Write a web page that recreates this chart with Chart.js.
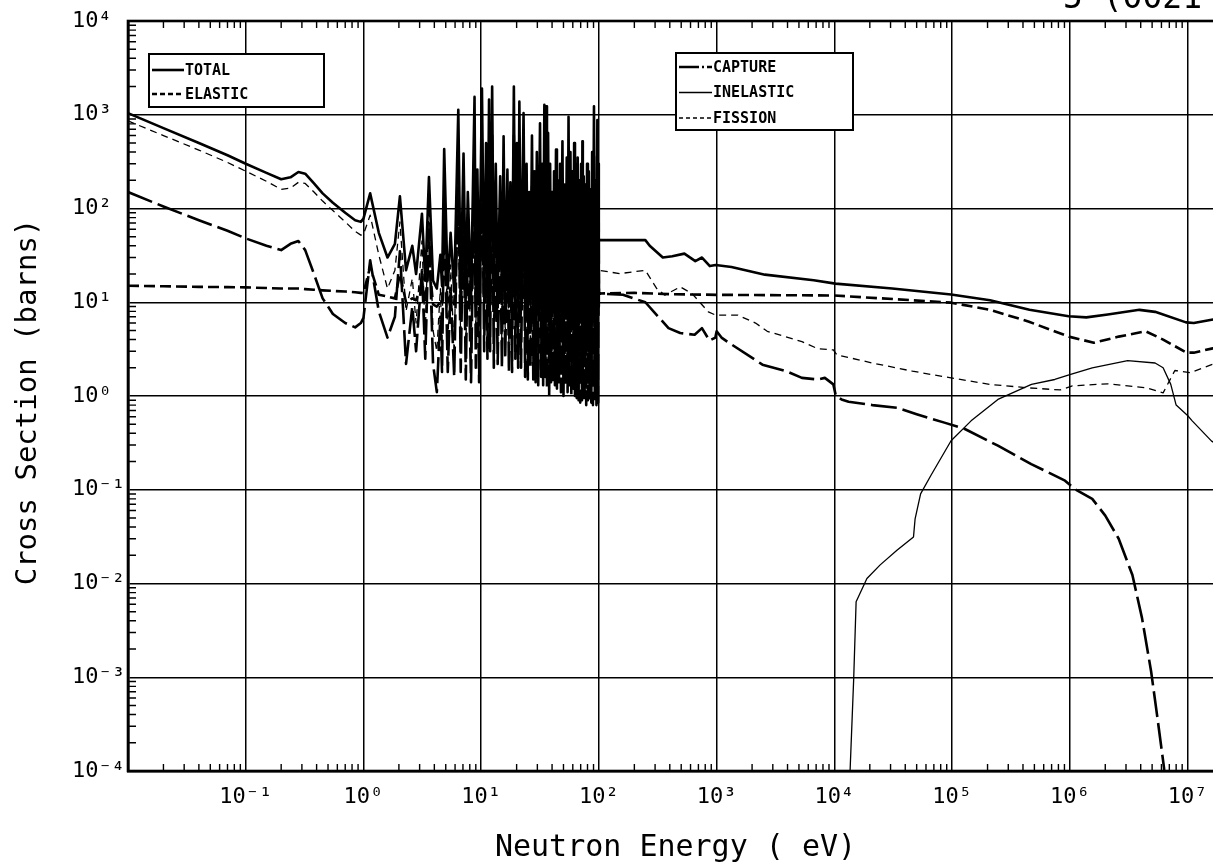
<!DOCTYPE html>
<html>
<head>
<meta charset="utf-8">
<title>Neutron cross sections</title>
<script src="https://cdn.jsdelivr.net/npm/chart.js@4.4.1/dist/chart.umd.min.js"></script>
<style>
  html, body { margin: 0; padding: 0; background: #fff; overflow: hidden; }
  canvas { display: block; }
</style>
</head>
<body>
<canvas id="xsChart" width="1230" height="868"></canvas>
<script>
// energies in eV, cross sections in barns

// thermal / sub-eV part
const lowE   = [0.01, 0.02, 0.04, 0.07, 0.1, 0.15, 0.2, 0.24, 0.28, 0.32, 0.38, 0.45, 0.55, 0.7, 0.85, 0.95];
const totLow = [1040, 720, 500, 370, 300, 240, 205, 215, 245, 235, 185, 145, 115, 90, 75, 72];
const elaLow = [15, 14.8, 14.6, 14.5, 14.4, 14.2, 14, 14, 14, 13.8, 13.6, 13.4, 13.2, 13, 12.8, 12.6];
const fisLow = [860, 600, 420, 310, 250, 195, 160, 165, 190, 185, 150, 120, 95, 72, 57, 52];
const capLow = [150, 105, 75, 58, 48, 40, 36, 42, 45, 36, 20, 11, 7.5, 6, 5.4, 6];

// resolved resonance region, 1 - 100 eV (valleys and peaks)
const resE = [
  1.0, 1.14, 1.35, 1.6, 1.85, 2.04, 2.3, 2.6, 2.8, 3.14,
  3.35, 3.6, 3.9, 4.2, 4.5, 4.65, 4.85, 5.2, 5.5, 5.9,
  6.39, 6.7, 7.08, 7.4, 7.7, 8.2, 8.78, 9.0, 9.28, 9.6,
  10.15, 10.6, 11.0, 11.3, 11.66, 11.9, 12.39, 12.8, 13.3, 13.8,
  14.5, 15.0, 15.5, 16.0, 16.7, 17.2, 17.7, 18.3, 18.95, 19.5,
  20.1, 20.6, 21.1, 21.8, 22.9, 23.6, 24.3, 24.9, 25.6, 26.2,
  27.0, 27.7, 28.4, 29.0, 29.7, 30.5, 31.6, 32.3, 33.0, 33.6,
  34.4, 35.0, 35.6, 36.2, 37.0, 37.8, 38.5, 39.2, 40.0, 40.8,
  41.6, 42.3, 43.2, 44.0, 45.0, 45.8, 46.8, 47.6, 49.0, 50.0,
  51.2, 52.2, 53.3, 54.2, 55.2, 56.2, 57.3, 58.3, 59.5, 60.5,
  61.6, 62.6, 63.8, 64.8, 66.0, 67.2, 68.3, 69.4, 70.6, 71.8,
  72.4, 73.0, 74.3, 75.5, 76.8, 78.0, 79.3, 80.6, 82.0, 83.3,
  84.8, 86.2, 87.6, 89.0, 90.8, 92.3, 93.8, 95.3, 97.0, 98.5,
  99.6
];
const totRes = [
  78, 145, 55, 30, 42, 135, 22, 40, 20, 88,
  17, 216, 17, 14, 32, 15, 430, 14, 55, 13,
  1130, 13, 385, 12, 150, 12, 1550, 13, 260, 12,
  1900, 12, 500, 12, 1450, 13, 2000, 11, 300, 11,
  220, 11, 590, 12, 260, 11, 190, 11, 2000, 12,
  500, 11, 1380, 11, 1040, 10.5, 300, 10.5, 150, 11,
  600, 10.5, 250, 10.5, 400, 10, 810, 10.5, 300, 10,
  1280, 10.5, 1230, 10, 640, 9.5, 300, 10, 150, 10,
  250, 10, 425, 9.5, 200, 10, 300, 9.5, 520, 9.5,
  180, 10, 350, 9.5, 950, 10, 400, 9.5, 250, 9.5,
  500, 9.5, 300, 9.5, 350, 9.5, 200, 9.5, 300, 9.5,
  520, 9.5, 220, 9, 180, 9, 300, 9, 250, 9,
  160, 9, 400, 9, 1230, 9, 200, 9, 880, 9,
  300
];
const elaRes = [
  12.5, 24, 12, 11.5, 11, 20, 10, 11, 10.5, 16,
  10, 28, 9.5, 9, 10, 9.5, 45, 9.5, 12, 9.5,
  95, 9.5, 35, 9.5, 16, 9.5, 120, 9, 22, 9.5,
  140, 10, 40, 10, 105, 10, 145, 9, 24, 9,
  19, 9, 45, 9.5, 21, 9, 16, 9, 145, 9,
  38, 9, 100, 9, 76, 9, 24, 9, 14, 9,
  45, 9, 20, 9, 30, 8.5, 60, 8.5, 24, 8.5,
  92, 8.5, 88, 8.5, 47, 8, 24, 8.5, 14, 8.5,
  20, 8.5, 32, 8, 16, 8.5, 24, 8, 38, 8,
  15, 8.5, 27, 8, 70, 8.5, 30, 8, 20, 8,
  37, 8, 24, 8, 27, 8, 16, 8, 24, 8,
  38, 8, 18, 7.5, 15, 7.5, 24, 7.5, 20, 7.5,
  14, 7.5, 30, 7.5, 88, 7.5, 16, 7.5, 64, 7.5,
  24
];
const fisRes = [
  53, 85, 32, 14, 22, 72, 8, 18, 6, 45,
  4.5, 120, 5, 3, 14, 3.5, 250, 3.5, 25, 2.8,
  650, 3, 210, 2.5, 80, 2.2, 880, 4, 140, 2.5,
  1080, 5, 280, 4, 830, 6, 1150, 3, 170, 3.5,
  120, 3, 340, 4, 150, 3, 105, 2.8, 1150, 4,
  290, 3, 790, 3.5, 600, 2.5, 170, 2.2, 85, 3,
  350, 2.5, 140, 2.2, 230, 2, 470, 2.5, 170, 2,
  740, 2.5, 700, 2, 370, 1.8, 170, 2.2, 85, 2.2,
  140, 2, 240, 1.8, 110, 2.2, 170, 1.8, 300, 1.6,
  100, 2, 200, 1.7, 550, 2, 230, 1.6, 140, 1.8,
  290, 1.5, 170, 1.4, 200, 1.5, 110, 1.3, 170, 1.5,
  300, 1.6, 125, 1.3, 100, 1.2, 170, 1.4, 140, 1.5,
  90, 1.3, 230, 1.2, 700, 1.4, 110, 1.2, 500, 1.3,
  170
];
const capRes = [
  6.8, 28, 8, 4.2, 7, 35, 2.2, 9, 3, 22,
  2.5, 60, 2.2, 1.1, 7, 1.8, 120, 1.8, 14, 1.6,
  350, 1.8, 120, 1.5, 45, 1.4, 460, 2, 80, 1.4,
  560, 3, 150, 2.5, 430, 3, 600, 2, 90, 2.2,
  65, 2, 170, 2.5, 75, 1.8, 55, 1.8, 600, 2.5,
  150, 2, 400, 2, 300, 1.6, 90, 1.5, 45, 2,
  170, 1.5, 75, 1.4, 120, 1.3, 240, 1.6, 90, 1.3,
  380, 1.6, 360, 1.2, 190, 1.0, 90, 1.4, 45, 1.4,
  75, 1.3, 125, 1.2, 60, 1.4, 90, 1.1, 150, 1.0,
  55, 1.3, 100, 1.1, 280, 1.3, 120, 1.0, 75, 1.2,
  150, 1.0, 90, 0.95, 100, 0.9, 60, 0.85, 90, 0.9,
  150, 1.0, 65, 0.9, 55, 0.8, 90, 0.9, 75, 0.95,
  50, 0.85, 120, 0.8, 360, 0.9, 60, 0.8, 260, 0.85,
  90
];

// above 100 eV
const totHiE = [100, 248, 270, 349, 420, 532, 659, 751, 876, 980, 1336, 2570, 6680, 10200, 31000, 98000,
                2.1e5, 4.54e5, 9.77e5, 1.38e6, 2.1e6, 3.9e6, 5.3e6, 9.7e6, 1.13e7, 1.6e7, 2e7];
const totHi  = [46, 46, 40, 30, 31, 33, 27.5, 30, 24.3, 25, 23.8, 19.7, 17.2, 15.8, 14, 12.1,
                10.5, 8.3, 7.1, 6.9, 7.4, 8.3, 7.9, 6.1, 6.0, 6.5, 6.8];
const elaHiE = [100, 200, 400, 1000, 10000, 46000, 98000, 2.1e5, 4.5e5, 9.8e5, 1.6e6, 2.6e6, 4.4e6,
                6.2e6, 9.8e6, 1.13e7, 1.6e7, 2e7];
const elaHi  = [12.4, 12.6, 12.2, 12, 11.8, 10.5, 9.9, 8.3, 6.2, 4.3, 3.7, 4.3, 4.9,
                4.0, 2.9, 2.9, 3.2, 3.4];
const fisHiE = [100, 150, 248, 310, 363, 490, 617, 850, 980, 1510, 2140, 2690, 5300, 7200, 9800, 10500,
                21000, 46000, 98000, 2.1e5, 4.5e5, 8.3e5, 1.05e6, 2.1e6, 4.5e6, 6.2e6, 7.8e6, 1.05e7, 1.6e7, 2e7];
const fisHi  = [21.9, 20.2, 21.9, 14, 11.9, 14.6, 12.4, 7.9, 7.3, 7.3, 6.0, 4.9, 3.8, 3.2, 3.1, 2.75,
                2.25, 1.84, 1.56, 1.33, 1.22, 1.16, 1.28, 1.35, 1.22, 1.08, 1.87, 1.77, 2.16, 2.3];
const capHiE = [100, 160, 248, 310, 390, 490, 650, 750, 870, 975, 1000, 1100, 1230, 2450, 3900, 5300,
                7200, 8300, 9800, 10300, 11500, 13200, 21000, 34000, 50000, 86000, 1.26e5, 2.45e5,
                4.7e5, 9.1e5, 1.1e6, 1.55e6, 2e6, 2.6e6, 3.4e6, 4.1e6, 4.9e6, 5.5e6, 6.3e6, 6.5e6];
const capHi  = [12.4, 12.0, 10, 7.3, 5.3, 4.7, 4.5, 5.3, 3.9, 4.2, 4.9, 4.2, 3.8, 2.16, 1.84, 1.56,
                1.5, 1.56, 1.33, 1.0, 0.92, 0.87, 0.80, 0.75, 0.64, 0.52, 0.45, 0.295,
                0.188, 0.125, 0.102, 0.08, 0.053, 0.03, 0.0123, 0.0043, 0.00116, 0.0004, 0.00011, 0.00007];
const inelE  = [1.35e4, 1.46e4, 1.53e4, 1.89e4, 2.45e4, 3.4e4, 4.7e4, 4.85e4, 5.4e4, 6.6e4, 9.8e4, 1.45e5,
                2.45e5, 4.72e5, 7.45e5, 1e6, 1.55e6, 3.1e6, 5.3e6, 6.2e6, 7.2e6, 8e6, 1e7, 1.1e7, 1.6e7, 2e7];
const inelV  = [0.00008, 0.00098, 0.0064, 0.0113, 0.0158, 0.0226, 0.0314, 0.049, 0.0905, 0.142, 0.333, 0.543,
                0.92, 1.33, 1.5, 1.69, 2.0, 2.38, 2.25, 2.0, 1.33, 0.8, 0.62, 0.54, 0.33, 0.28];

// axes
const xMin = 0.01, xMax = 2e7;
const yMin = 1e-4, yMax = 1e4;
const xTickExps = [-1, 0, 1, 2, 3, 4, 5, 6, 7];
const yTickExps = [-4, -3, -2, -1, 0, 1, 2, 3, 4];
const legendLeft  = ['TOTAL', 'ELASTIC'];
const legendRight = ['CAPTURE', 'INELASTIC', 'FISSION'];

const MONO = '"DejaVu Sans Mono", "Liberation Mono", monospace';
const SUP = {'-': '\u207B', '0': '\u2070', '1': '\u00B9', '2': '\u00B2', '3': '\u00B3', '4': '\u2074',
             '5': '\u2075', '6': '\u2076', '7': '\u2077', '8': '\u2078', '9': '\u2079'};

function pts(es, vs) { return es.map((e, i) => ({x: e, y: vs[i]})); }
function isDecade(v) { const l = Math.log10(v); return Math.abs(l - Math.round(l)) < 1e-9; }
function powLabel(v, exps) {
  if (!isDecade(v)) return '';
  const e = Math.round(Math.log10(v));
  if (!exps.includes(e)) return '';
  return '10' + String(e).split('').map(c => SUP[c]).join('');
}
// drop the 1.5 x 10^n ticks chart.js adds, keep 1..9
function keepIntegerTicks(scale) {
  scale.ticks = scale.ticks.filter(t => {
    const m = t.value / Math.pow(10, Math.floor(Math.log10(t.value) + 1e-9));
    return Math.abs(m - Math.round(m)) < 1e-6;
  });
}
function gridColor(ctx) { return ctx.tick && isDecade(ctx.tick.value) ? '#000' : 'rgba(0,0,0,0)'; }

const datasets = [
  { label: 'TOTAL', data: pts(lowE, totLow).concat(pts(resE, totRes), pts(totHiE, totHi)),
    borderWidth: 2.6, borderDash: [], legendDash: [] },
  { label: 'ELASTIC', data: pts(lowE, elaLow).concat(pts(resE, elaRes), pts(elaHiE, elaHi)),
    borderWidth: 2.6, borderDash: [11, 5], legendDash: [5, 3] },
  { label: 'CAPTURE', data: pts(lowE, capLow).concat(pts(resE, capRes), pts(capHiE, capHi)),
    borderWidth: 2.6, borderDash: [26, 6], legendDash: [20, 3, 2, 3] },
  { label: 'INELASTIC', data: pts(inelE, inelV),
    borderWidth: 1.3, borderDash: [], legendDash: [] },
  { label: 'FISSION', data: pts(lowE, fisLow).concat(pts(resE, fisRes), pts(fisHiE, fisHi)),
    borderWidth: 1.3, borderDash: [7, 5], legendDash: [4, 3] }
];
datasets.forEach(d => { d.borderColor = '#000'; d.backgroundColor = '#000'; d.fill = false; });

// inward minor ticks on all four sides + heavy frame
const frameTicks = {
  id: 'frameTicks',
  afterDatasetsDraw(chart) {
    const {ctx, chartArea: a, scales} = chart;
    ctx.save();
    ctx.strokeStyle = '#000';
    ctx.lineWidth = 1.4;
    ctx.beginPath();
    scales.x.ticks.forEach(t => {
      if (isDecade(t.value)) return;
      const px = scales.x.getPixelForValue(t.value);
      if (px <= a.left || px >= a.right) return;
      ctx.moveTo(px, a.bottom); ctx.lineTo(px, a.bottom - 7);
      ctx.moveTo(px, a.top); ctx.lineTo(px, a.top + 7);
    });
    scales.y.ticks.forEach(t => {
      if (isDecade(t.value)) return;
      const py = scales.y.getPixelForValue(t.value);
      if (py <= a.top || py >= a.bottom) return;
      ctx.moveTo(a.left, py); ctx.lineTo(a.left + 8, py);
      ctx.moveTo(a.right, py); ctx.lineTo(a.right - 8, py);
    });
    ctx.stroke();
    ctx.lineWidth = 2.6;
    ctx.strokeRect(a.left, a.top, a.right - a.left, a.bottom - a.top);
    ctx.restore();
  }
};

// two boxed legends, y axis title, clipped plot title
const boxLegend = {
  id: 'boxLegend',
  afterDraw(chart, args, opts) {
    const {ctx} = chart;
    ctx.save();
    opts.boxes.forEach(b => {
      ctx.fillStyle = '#fff';
      ctx.fillRect(b.x, b.y, b.w, b.h);
      ctx.strokeStyle = '#000';
      ctx.lineWidth = 2;
      ctx.setLineDash([]);
      ctx.strokeRect(b.x, b.y, b.w, b.h);
      b.items.forEach((name, i) => {
        const ds = chart.data.datasets.find(d => d.label === name);
        const y = b.y + b.first + i * b.step;
        ctx.lineWidth = ds.borderWidth;
        ctx.setLineDash(ds.legendDash);
        ctx.beginPath();
        ctx.moveTo(b.x + 3, y);
        ctx.lineTo(b.x + 3 + b.line, y);
        ctx.stroke();
        ctx.setLineDash([]);
        ctx.fillStyle = '#000';
        ctx.font = 'bold 15px ' + MONO;
        ctx.textAlign = 'left';
        ctx.textBaseline = 'middle';
        ctx.fillText(name, b.x + 4 + b.line, y + 1);
      });
    });

    ctx.fillStyle = '#000';
    ctx.font = '29px ' + MONO;
    ctx.textAlign = 'center';
    ctx.textBaseline = 'alphabetic';
    ctx.translate(36, 402);
    ctx.rotate(-Math.PI / 2);
    ctx.fillText(opts.yTitle, 0, 0);
    ctx.setTransform(1, 0, 0, 1, 0, 0);

    ctx.font = '33px ' + MONO;
    ctx.textAlign = 'left';
    ctx.fillText(opts.topTitle, 1063, 8);
    ctx.restore();
  }
};

new Chart(document.getElementById('xsChart'), {
  type: 'line',
  data: { datasets },
  plugins: [frameTicks, boxLegend],
  options: {
    responsive: false,
    animation: false,
    layout: { padding: { left: 72, right: 7, top: 21, bottom: 0 } },
    elements: {
      point: { radius: 0 },
      line: { tension: 0, borderJoinStyle: 'round', borderCapStyle: 'butt' }
    },
    plugins: {
      legend: { display: false },
      tooltip: { enabled: false },
      boxLegend: {
        yTitle: 'Cross Section (barns)',
        topTitle: '5 (0021',
        boxes: [
          { x: 149, y: 54, w: 175, h: 53, first: 16, step: 24, line: 32, items: legendLeft },
          { x: 676, y: 53, w: 177, h: 77, first: 14, step: 25.5, line: 33, items: legendRight }
        ]
      }
    },
    scales: {
      x: {
        type: 'logarithmic',
        min: xMin, max: xMax,
        afterBuildTicks: keepIntegerTicks,
        afterFit: s => { s.height = 97; s.paddingLeft = 0; s.paddingRight = 0; },
        grid: { color: gridColor, lineWidth: 1.5, drawTicks: false },
        border: { color: '#000', width: 2.6 },
        ticks: {
          autoSkip: false, maxRotation: 0, minRotation: 0, padding: 13, color: '#000',
          font: { family: MONO, size: 22 },
          callback: v => powLabel(v, xTickExps)
        },
        title: {
          display: true, text: 'Neutron Energy ( eV)', color: '#000',
          font: { family: MONO, size: 30 }, padding: { top: 0, bottom: 2 }
        }
      },
      y: {
        type: 'logarithmic',
        min: yMin, max: yMax,
        afterBuildTicks: keepIntegerTicks,
        afterFit: s => { s.width = 56; s.paddingTop = 0; s.paddingBottom = 0; },
        grid: { color: gridColor, lineWidth: 1.5, drawTicks: false },
        border: { color: '#000', width: 2.6 },
        ticks: {
          autoSkip: false, crossAlign: 'far', color: '#000',
          font: { family: MONO, size: 22 },
          callback: v => powLabel(v, yTickExps)
        }
      }
    }
  }
});
</script>
</body>
</html>
